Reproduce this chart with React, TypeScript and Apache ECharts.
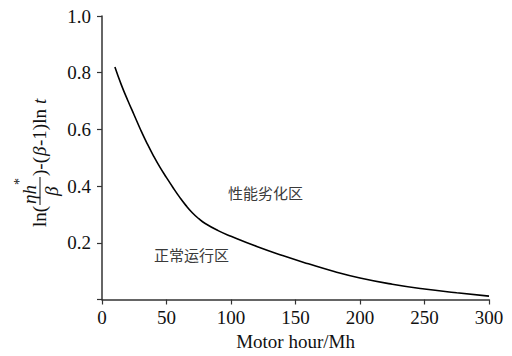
import React, { useEffect, useRef } from "react";
import * as echarts from "echarts";

const xValues = [10, 15, 20, 25, 30, 35, 40, 45, 50, 55, 60, 65, 70, 75, 80, 90, 100, 120, 140, 160, 180, 200, 225, 250, 275, 300];
const yValues = [0.82, 0.757, 0.702, 0.65, 0.598, 0.55, 0.506, 0.466, 0.43, 0.395, 0.362, 0.332, 0.306, 0.285, 0.268, 0.243, 0.223, 0.187, 0.155, 0.126, 0.099, 0.076, 0.054, 0.037, 0.024, 0.012];
const xTicks = [0, 50, 100, 150, 200, 250, 300];
const yTicks = [0.2, 0.4, 0.6, 0.8, 1.0];
const xName = "Motor hour/Mh";
const zoneUpper = "性能劣化区";
const zoneLower = "正常运行区";

const SERIF = "Liberation Serif, serif";
const CJK = "Noto Sans CJK SC, sans-serif";

export default function App() {
  const ref = useRef<HTMLDivElement>(null);
  useEffect(() => {
    if (!ref.current) return;
    const chart = echarts.init(ref.current, undefined, { renderer: "svg" });
    const fs = 19;
    const base = { fontFamily: SERIF, fontSize: fs, fill: "#111" };
    const it = { ...base, fontStyle: "italic" };
    chart.setOption({
      animation: false,
      backgroundColor: "#fff",
      textStyle: { fontFamily: SERIF },
      grid: { left: 102, right: 23, top: 16, bottom: 56.5 },
      xAxis: {
        type: "value",
        min: xTicks[0],
        max: xTicks[xTicks.length - 1],
        interval: 50,
        name: xName,
        nameLocation: "middle",
        nameGap: 32,
        nameTextStyle: { fontFamily: SERIF, fontSize: 19, color: "#111" },
        axisLine: { lineStyle: { color: "#333", width: 1.5 } },
        axisTick: { length: 5, lineStyle: { color: "#333", width: 1.2 } },
        axisLabel: { margin: 8, fontFamily: SERIF, fontSize: 19, color: "#111" },
        splitLine: { show: false },
      },
      yAxis: {
        type: "value",
        min: 0,
        max: 1,
        interval: 0.2,
        axisLine: { show: true, lineStyle: { color: "#333", width: 1.5 } },
        axisTick: { show: true, length: 5, lineStyle: { color: "#333", width: 1.2 } },
        axisLabel: {
          margin: 11,
          fontFamily: SERIF,
          fontSize: 19,
          color: "#111",
          formatter: (v: number) => (yTicks.some((t) => Math.abs(t - v) < 1e-9) ? v.toFixed(1) : ""),
        },
        splitLine: { show: false },
      },
      series: [
        {
          type: "line",
          data: xValues.map((x, i) => [x, yValues[i]]),
          smooth: 0.5,
          symbol: "none",
          lineStyle: { color: "#000", width: 1.6 },
        },
      ],
      graphic: [
        {
          type: "text",
          left: 228,
          top: 185,
          style: { text: zoneUpper, fontFamily: CJK, fontSize: 15, fill: "#3a3a3a" },
        },
        {
          type: "text",
          left: 154,
          top: 247,
          style: { text: zoneLower, fontFamily: CJK, fontSize: 15, fill: "#3a3a3a" },
        },
        {
          type: "group",
          x: 39,
          y: 227,
          rotation: Math.PI / 2,
          children: [
            { type: "text", x: 0, y: 0, style: { ...base, text: "ln(", verticalAlign: "middle" } },
            { type: "text", x: 23, y: -10, style: { ...it, text: "ηh", verticalAlign: "middle" } },
            { type: "text", x: 42, y: -20, style: { ...base, fontSize: 14, text: "*", verticalAlign: "middle" } },
            { type: "line", shape: { x1: 22, y1: 1, x2: 50, y2: 1 }, style: { stroke: "#111", lineWidth: 1 } },
            { type: "text", x: 31, y: 12, style: { ...it, text: "β", verticalAlign: "middle" } },
            { type: "text", x: 51, y: 0, style: { ...base, text: ")-(", verticalAlign: "middle" } },
            { type: "text", x: 71, y: 0, style: { ...it, text: "β", verticalAlign: "middle" } },
            { type: "text", x: 81, y: 0, style: { ...base, text: "-1)ln", verticalAlign: "middle" } },
            { type: "text", x: 123, y: 0, style: { ...it, text: "t", verticalAlign: "middle" } },
          ],
        },
      ],
    });
    return () => chart.dispose();
  }, []);
  return <div ref={ref} style={{ position: "fixed", left: 0, top: 0, width: 512, height: 356 }} />;
}
